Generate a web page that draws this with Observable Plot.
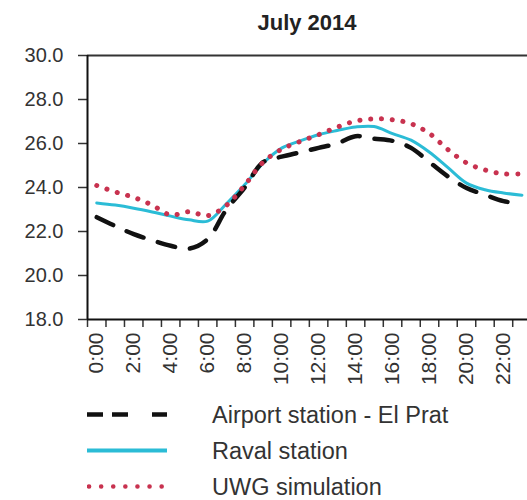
<!DOCTYPE html>
<html><head><meta charset="utf-8">
<script src="https://cdn.jsdelivr.net/npm/d3@7"></script>
<script src="https://cdn.jsdelivr.net/npm/@observablehq/plot@0.6"></script>
<style>
html,body{margin:0;padding:0;background:#fff;overflow:hidden;}
body{width:527px;height:500px;position:relative;font-family:"Liberation Sans",Arial,sans-serif;color:#333;}
#title{position:absolute;left:87px;width:440px;top:0;height:40px;padding-top:10px;box-sizing:border-box;line-height:26px;text-align:center;font-weight:bold;font-size:22px;color:#222;}
#deco{position:absolute;left:10px;top:48px;height:277px;width:0;border-left:1px solid #9a9a9a;}
#chart{position:absolute;left:0;top:40px;}
#legend{position:absolute;left:0;top:397px;width:527px;}
.row{height:36px;position:relative;}
.row svg{position:absolute;left:87px;top:12px;}
.row span{position:absolute;left:212px;top:0;line-height:36px;font-size:23.5px;color:#333;white-space:nowrap;}
</style>
</head><body>
<div id="title"></div>
<div id="deco"></div>
<div id="chart"></div>
<div id="legend"></div>
<script>
const titleText = "July 2014";
const hours = [0,1,2,3,4,5,6,7,8,9,10,11,12,13,14,15,16,17,18,19,20,21,22,23];
const hourLabels = ["0:00","1:00","2:00","3:00","4:00","5:00","6:00","7:00","8:00","9:00","10:00","11:00","12:00","13:00","14:00","15:00","16:00","17:00","18:00","19:00","20:00","21:00","22:00","23:00"];
const airport = [22.65,22.25,21.88,21.6,21.35,21.22,21.65,22.98,24.0,25.15,25.4,25.6,25.8,26.0,26.33,26.22,26.12,25.8,25.15,24.5,23.98,23.67,23.38,23.28];
const raval   = [23.3,23.2,23.06,22.89,22.7,22.53,22.47,23.25,24.12,25.1,25.79,26.12,26.4,26.59,26.75,26.77,26.45,26.15,25.6,24.9,24.2,23.9,23.75,23.65];
const uwg     = [24.09,23.8,23.55,23.2,22.75,22.9,22.72,23.18,24.1,25.15,25.74,26.09,26.4,26.74,27.02,27.12,27.08,26.9,26.45,25.72,25.12,24.8,24.62,24.62];
const seriesNames = ["Airport station - El Prat","Raval station","UWG simulation"];
const yTicks = [18,20,22,24,26,28,30];

document.getElementById("title").textContent = titleText;

const mk = vals => hours.map((h,i) => ({hour:h, value:vals[i]}));
const dAir = mk(airport), dRav = mk(raval), dUwg = mk(uwg);
const bounds = hours.map(h => h - 0.5).concat([23.5]);
const labelHours = hours.filter(h => h % 2 === 0);

const colors = {air:"#111111", rav:"#2bbcd6", uwg:"#c8324f"};

const plot = Plot.plot({
  width: 527, height: 353,
  marginTop: 15, marginLeft: 87, marginRight: 0, marginBottom: 74,
  style: {fontFamily: "'Liberation Sans', Arial, sans-serif", color: "#333", background: "#fff"},
  x: {type: "linear", domain: [-0.5, 23.3], label: null},
  y: {domain: [18, 30], label: null},
  marks: [
    Plot.ruleY([30], {stroke: "#333", strokeWidth: 2}),
    Plot.axisY({ticks: yTicks, tickFormat: d3.format(".1f"), tickSize: 9, tickPadding: 15, fontSize: 20, stroke: "#333", strokeWidth: 1.5, label: null}),
    Plot.axisX({ticks: bounds, tickSize: 8, tickFormat: () => "", stroke: "#333", strokeWidth: 1.5, label: null}),
    Plot.axisX({ticks: labelHours, tickSize: 0, tickRotate: -90, tickPadding: 13, fontSize: 21, tickFormat: d => hourLabels[hours.indexOf(d)], label: null}),
    Plot.line(dRav, {x: "hour", y: "value", stroke: colors.rav, strokeWidth: 3, curve: "catmull-rom"}),
    Plot.line(dAir, {x: "hour", y: "value", stroke: colors.air, strokeWidth: 4.5, strokeDasharray: "18,15", curve: "catmull-rom"}),
    Plot.line(dUwg, {x: "hour", y: "value", stroke: colors.uwg, strokeWidth: 5, strokeDasharray: "0.1,10.7", strokeLinecap: "round", curve: "catmull-rom"}),
    Plot.ruleX([-0.5], {stroke: "#111", strokeWidth: 2}),
    Plot.ruleY([18], {stroke: "#111", strokeWidth: 2})
  ]
});
document.getElementById("chart").appendChild(plot);

const leg = document.getElementById("legend");
const swatches = [
  `<line x1="0" y1="5.5" x2="80" y2="5.5" stroke="${colors.air}" stroke-width="4.5" stroke-dasharray="16 9 16 24"/>`,
  `<line x1="0" y1="5.5" x2="80" y2="5.5" stroke="${colors.rav}" stroke-width="4"/>`,
  `<line x1="2" y1="5.5" x2="76" y2="5.5" stroke="${colors.uwg}" stroke-width="4.5" stroke-linecap="round" stroke-dasharray="0.1 12"/>`
];
seriesNames.forEach((name, i) => {
  const row = document.createElement("div");
  row.className = "row";
  row.innerHTML = `<svg width="80" height="11">${swatches[i]}</svg><span></span>`;
  row.querySelector("span").textContent = name;
  leg.appendChild(row);
});
</script>
</body></html>
